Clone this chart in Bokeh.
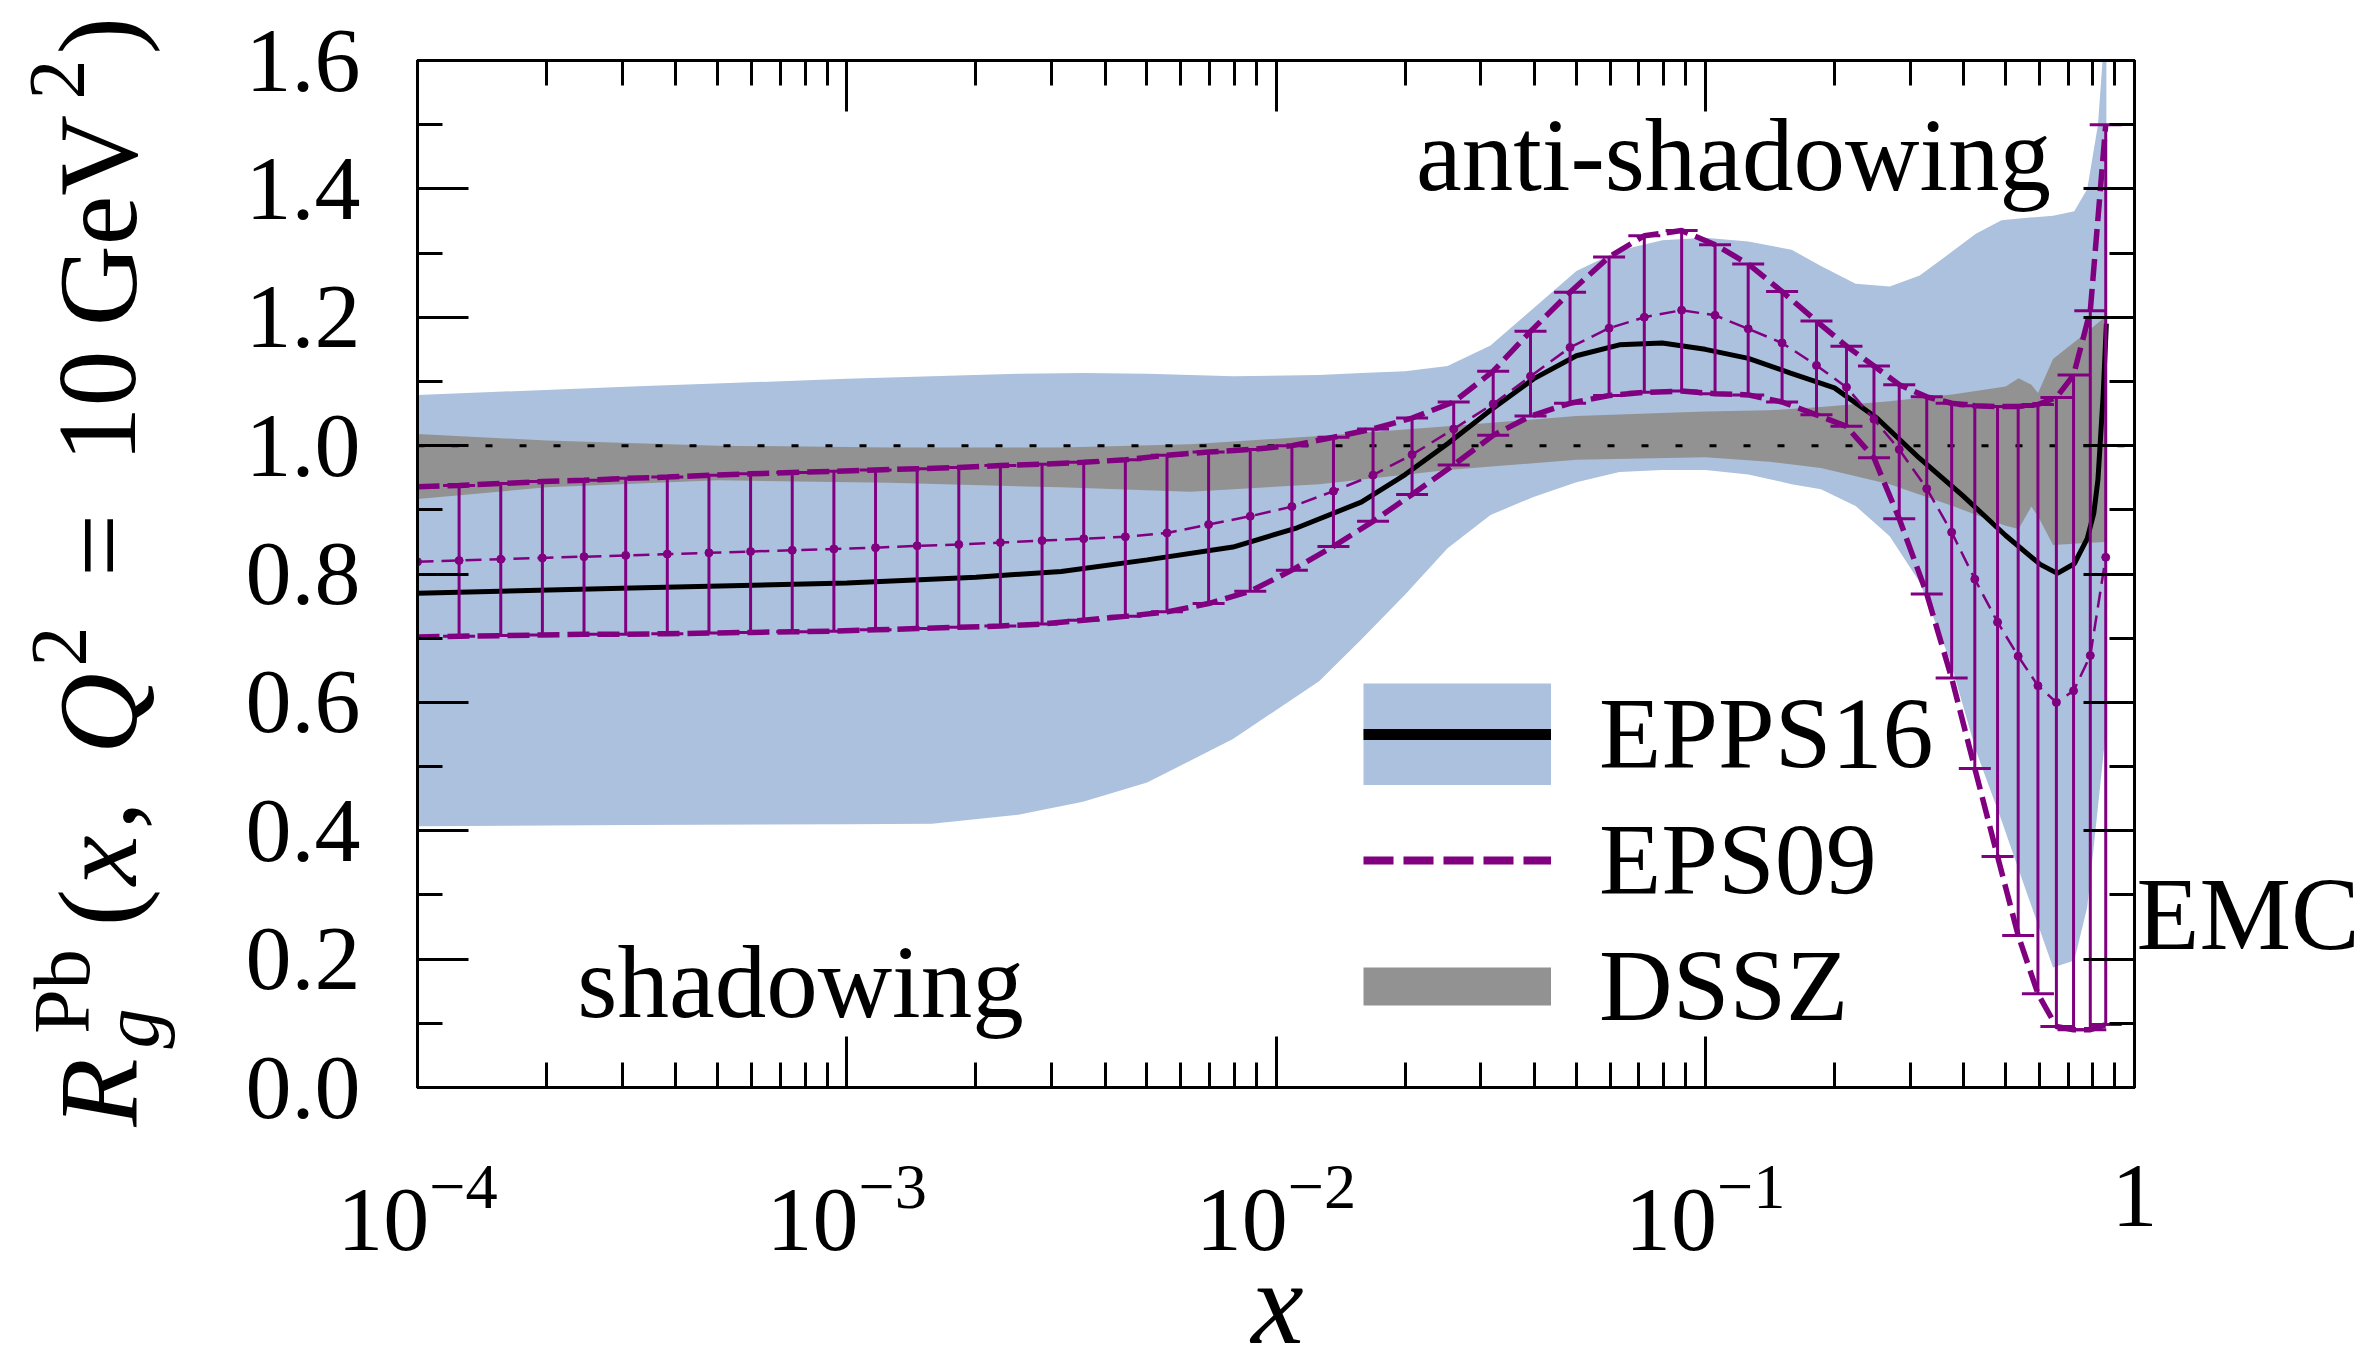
import numpy as np
from bokeh.plotting import figure
from bokeh.models import (Range1d, LogAxis, LinearAxis, LogTicker, FixedTicker,
                          PrintfTickFormatter, CustomJSTickFormatter, LogTickFormatter,
                          Label, Legend, LegendItem, ColumnDataSource)
from bokeh.embed import file_html
from bokeh.resources import INLINE

# ---------------- data ----------------
# EPPS16 (band + central)
eps16_band_x = [1e-4, 3.16e-4, 1e-3, 1.58e-3, 2.51e-3, 3.55e-3, 5.01e-3, 7.94e-3, 1.26e-2,
                1.58e-2, 2.0e-2, 2.51e-2, 3.16e-2, 3.98e-2, 5.01e-2, 6.31e-2, 7.94e-2, 0.1,
                0.126, 0.159, 0.186, 0.224, 0.269, 0.316, 0.372, 0.427, 0.49, 0.562, 0.646,
                0.724, 0.776, 0.822, 0.853, 0.86]
eps16_lo = [0.407, 0.409, 0.410, 0.411, 0.425, 0.445, 0.475, 0.543, 0.633, 0.698, 0.768,
            0.840, 0.892, 0.920, 0.943, 0.959, 0.962, 0.962, 0.955, 0.940, 0.932, 0.906,
            0.859, 0.787, 0.665, 0.525, 0.416, 0.302, 0.187, 0.198, 0.281, 0.437, 0.540, 0.62]
eps16_hi = [1.079, 1.092, 1.104, 1.108, 1.112, 1.113, 1.112, 1.108, 1.110, 1.113, 1.116,
            1.124, 1.156, 1.214, 1.272, 1.304, 1.320, 1.324, 1.318, 1.305, 1.280, 1.252,
            1.248, 1.265, 1.300, 1.330, 1.351, 1.355, 1.358, 1.365, 1.400, 1.500, 1.650, 1.80]

eps16_x = [1e-4, 3.16e-4, 1e-3, 2.0e-3, 3.16e-3, 5.01e-3, 7.94e-3, 1.12e-2, 1.58e-2, 2.0e-2,
           2.51e-2, 3.16e-2, 3.98e-2, 5.01e-2, 6.31e-2, 7.94e-2, 0.1, 0.126, 0.158, 0.2,
           0.251, 0.316, 0.398, 0.501, 0.603, 0.661, 0.724, 0.776, 0.804, 0.822, 0.845, 0.86]
eps16_c = [0.770, 0.778, 0.786, 0.795, 0.804, 0.822, 0.842, 0.872, 0.912, 0.955, 1.003,
           1.055, 1.104, 1.140, 1.157, 1.160, 1.150, 1.136, 1.113, 1.090, 1.043, 0.980,
           0.922, 0.860, 0.815, 0.801, 0.816, 0.855, 0.895, 0.947, 1.077, 1.19]

# DSSZ band
dssz_x = [1e-4, 2.0e-4, 5.01e-4, 1.26e-3, 3.16e-3, 6.31e-3, 1.26e-2, 2.51e-2, 5.01e-2, 0.1,
          0.141, 0.186, 0.269, 0.380, 0.501, 0.537, 0.575, 0.596, 0.646, 0.752, 0.853, 0.86]
dssz_lo = [0.917, 0.935, 0.946, 0.942, 0.935, 0.928, 0.940, 0.962, 0.978, 0.982, 0.975,
           0.965, 0.940, 0.905, 0.875, 0.870, 0.905, 0.890, 0.845, 0.848, 0.850, 0.850]
dssz_hi = [1.018, 1.008, 1.000, 0.997, 0.997, 1.002, 1.015, 1.030, 1.046, 1.053, 1.055,
           1.060, 1.069, 1.080, 1.092, 1.105, 1.095, 1.082, 1.135, 1.170, 1.200, 1.220]

# EPS09 (points with error bars)
eps09_x = [1.000e-4, 1.250e-4, 1.563e-4, 1.954e-4, 2.443e-4, 3.055e-4, 3.819e-4, 4.775e-4,
           5.970e-4, 7.464e-4, 9.333e-4, 1.167e-3, 1.459e-3, 1.824e-3, 2.280e-3, 2.851e-3,
           3.565e-3, 4.457e-3, 5.572e-3, 6.966e-3, 8.710e-3, 1.089e-2, 1.361e-2, 1.683e-2,
           2.075e-2, 2.594e-2, 3.206e-2, 3.917e-2, 4.842e-2, 5.970e-2, 7.211e-2, 8.810e-2,
           0.1054, 0.1259, 0.1510, 0.1816, 0.2133, 0.2472, 0.2831, 0.3281, 0.3750, 0.4246,
           0.4797, 0.5358, 0.5957, 0.6577, 0.7211, 0.7889, 0.8570]
eps09_c = [0.819, 0.821, 0.823, 0.825, 0.827, 0.829, 0.831, 0.833, 0.835, 0.837,
           0.839, 0.841, 0.844, 0.846, 0.849, 0.852, 0.855, 0.858, 0.864, 0.877,
           0.890, 0.905, 0.929, 0.954, 0.986, 1.026, 1.065, 1.108, 1.153, 1.183,
           1.200, 1.211, 1.203, 1.182, 1.160, 1.125, 1.091, 1.041, 0.994, 0.933,
           0.865, 0.792, 0.725, 0.672, 0.626, 0.600, 0.618, 0.673, 0.826]
eps09_hi = [0.936, 0.938, 0.941, 0.944, 0.946, 0.949, 0.951, 0.954, 0.956, 0.958,
            0.960, 0.962, 0.964, 0.966, 0.969, 0.971, 0.974, 0.978, 0.985, 0.990,
            0.994, 1.000, 1.013, 1.026, 1.043, 1.068, 1.116, 1.178, 1.239, 1.294,
            1.327, 1.335, 1.313, 1.283, 1.240, 1.194, 1.155, 1.124, 1.095, 1.076,
            1.066, 1.062, 1.061, 1.061, 1.064, 1.075, 1.110, 1.210, 1.500]
eps09_lo = [0.702, 0.703, 0.704, 0.705, 0.706, 0.706, 0.707, 0.708, 0.709, 0.710,
            0.711, 0.713, 0.715, 0.717, 0.719, 0.722, 0.728, 0.734, 0.741, 0.754,
            0.773, 0.806, 0.843, 0.882, 0.924, 0.970, 1.016, 1.046, 1.066, 1.078,
            1.083, 1.085, 1.081, 1.079, 1.068, 1.048, 1.030, 0.981, 0.886, 0.769,
            0.638, 0.497, 0.360, 0.237, 0.146, 0.095, 0.090, 0.090, 0.098]

# reference line R = 1
unity_x = [1e-4, 1.0]
unity_y = [1.0, 1.0]

# ticks
y_major = [0.0, 0.2, 0.4, 0.6, 0.8, 1.0, 1.2, 1.4, 1.6]
y_minor = [0.1, 0.3, 0.5, 0.7, 0.9, 1.1, 1.3, 1.5]

# ---------------- layout / style ----------------
W, H = 2361, 1369
FL, FR, FT, FB = 417, 2134, 60, 1087
X_MIN, X_MAX = 1e-4, 1.0
Y_MIN, Y_MAX = 0.0, 1.6
FONT = "Liberation Serif"
BLUE = "#abc1de"
GRAY = "#929292"
PURPLE = "#800080"

p = figure(width=W, height=H, x_axis_type="log",
           x_range=Range1d(X_MIN, X_MAX), y_range=Range1d(Y_MIN, Y_MAX),
           output_backend="svg", toolbar_location=None,
           min_border_left=FL, min_border_right=W - FR,
           min_border_top=FT, min_border_bottom=H - FB)
p.grid.visible = False
p.outline_line_color = "black"
p.outline_line_width = 3
p.background_fill_color = "white"
p.border_fill_color = "white"

empty_fmt = CustomJSTickFormatter(code="return ''")


def style_axis(ax):
    ax.major_tick_in = 51
    ax.major_tick_out = 0
    ax.minor_tick_in = 25
    ax.minor_tick_out = 0
    ax.major_tick_line_width = 3
    ax.minor_tick_line_width = 3
    ax.major_tick_line_color = "black"
    ax.minor_tick_line_color = "black"
    ax.axis_line_width = 3
    ax.axis_line_color = "black"


# bottom (log) axis with 10^n labels
xb = p.xaxis[0]
xb.ticker = LogTicker(num_minor_ticks=10)
xb.formatter = LogTickFormatter()
xb.major_label_overrides = {1: "1"}
xb.major_label_text_font = FONT
xb.major_label_text_font_size = "92px"
xb.major_label_text_color = "black"
xb.major_label_standoff = 78
style_axis(xb)

# left axis
yl = p.yaxis[0]
yl.ticker = FixedTicker(ticks=y_major, minor_ticks=y_minor)
yl.formatter = PrintfTickFormatter(format="%.1f")
yl.major_label_text_font = FONT
yl.major_label_text_font_size = "92px"
yl.major_label_text_color = "black"
yl.major_label_standoff = 57
style_axis(yl)

# mirrored axes
xt = LogAxis(ticker=LogTicker(num_minor_ticks=10), formatter=empty_fmt)
style_axis(xt)
p.add_layout(xt, "above")
yr = LinearAxis(ticker=FixedTicker(ticks=y_major, minor_ticks=y_minor), formatter=empty_fmt)
style_axis(yr)
p.add_layout(yr, "right")

# ---------------- glyphs ----------------
p.varea(x=eps16_band_x, y1=eps16_lo, y2=eps16_hi, fill_color=BLUE, fill_alpha=1.0)
p.varea(x=dssz_x, y1=dssz_lo, y2=dssz_hi, fill_color=GRAY, fill_alpha=1.0)
p.line(x=unity_x, y=unity_y, line_color="black", line_width=3, line_dash="7 27")
p.line(x=eps16_x, y=eps16_c, line_color="black", line_width=5)

src09 = ColumnDataSource(dict(x=eps09_x, c=eps09_c, lo=eps09_lo, hi=eps09_hi))
p.segment(x0="x", y0="lo", x1="x", y1="hi", source=src09, line_color=PURPLE, line_width=3)
p.scatter(x="x", y="hi", source=src09, marker="dash", size=32, line_color=PURPLE, line_width=3)
p.scatter(x="x", y="lo", source=src09, marker="dash", size=32, line_color=PURPLE, line_width=3)
p.line(x="x", y="hi", source=src09, line_color=PURPLE, line_width=5.5, line_dash="22 8")
p.line(x="x", y="lo", source=src09, line_color=PURPLE, line_width=5.5, line_dash="22 8")
p.line(x="x", y="c", source=src09, line_color=PURPLE, line_width=2.5, line_dash="16 8")
p.scatter(x="x", y="c", source=src09, marker="circle", size=8, line_color=PURPLE, fill_color=PURPLE)

# legend swatches (hidden renderers of the same data, styled as legend keys)
key_band16 = p.line(x=eps16_band_x, y=eps16_hi, line_color=BLUE, line_width=102, visible=False)
key_line16 = p.line(x=eps16_x, y=eps16_c, line_color="black", line_width=11, visible=False)
key_eps09 = p.line(x=eps09_x, y=eps09_hi, line_color=PURPLE, line_width=8,
                   line_dash="30 10", visible=False)
key_dssz = p.line(x=dssz_x, y=dssz_hi, line_color=GRAY, line_width=38, visible=False)

legend = Legend(items=[LegendItem(label="EPPS16", renderers=[key_band16, key_line16]),
                       LegendItem(label="EPS09", renderers=[key_eps09]),
                       LegendItem(label="DSSZ", renderers=[key_dssz])],
                location=(946, 43), glyph_width=188, glyph_height=102,
                label_height=102, label_standoff=48, spacing=9, padding=0, margin=0,
                border_line_alpha=0, background_fill_alpha=0,
                label_text_font=FONT, label_text_font_size="102px",
                label_text_color="black")
p.add_layout(legend)

# ---------------- text overlay (canvas pixel coordinates) ----------------
q = figure(width=W, height=H, x_range=Range1d(0, W), y_range=Range1d(H, 0),
           output_backend="svg", toolbar_location=None,
           x_axis_location=None, y_axis_location=None, min_border=0,
           outline_line_color=None, background_fill_alpha=0, border_fill_alpha=0,
           styles={"position": "fixed", "left": "0px", "top": "0px",
                   "z-index": "10", "pointer-events": "none"})
q.grid.visible = False

BASE_K = 0.34  # baseline correction (fraction of font size)


def txt(text, px, py, size, italic=False, align="left", angle=0):
    if angle == 0:
        x, y = px, py - BASE_K * size
    else:
        x, y = px - BASE_K * size, py
    q.add_layout(Label(x=x, y=y, text=text, text_font=FONT, text_font_size=f"{size}px",
                       text_font_style="italic" if italic else "normal",
                       text_align=align, text_baseline="alphabetic", text_color="black",
                       angle=angle, angle_units="deg"))


# y axis title pieces: (text, baseline x, centre y, size, italic)
ylab = [("R", 136, 1092, 112, True), ("g", 158, 1028, 80, True), ("Pb", 89, 991, 80, False),
        ("(", 136, 907, 112, False), ("x", 136, 860, 112, True), (",", 136, 815, 112, False),
        ("Q", 136, 713, 112, True), ("2", 86, 646, 80, False), ("=", 136, 545, 112, False),
        ("10", 136, 406, 112, False), ("GeV", 136, 220, 112, False), ("2", 84, 79, 80, False),
        (")", 136, 35, 112, False)]
for t, bx, cy, sz, it in ylab:
    txt(t, bx, cy, sz, italic=it, align="center", angle=90)

txt("x", 1277, 1343, 118, italic=True, align="center")
txt("anti-shadowing", 1733, 190, 103, align="center")
txt("shadowing", 800, 1017, 103, align="center")
txt("EMC", 2136, 949, 103, align="left")

open("out.html", "w").write(file_html([p, q], INLINE))
